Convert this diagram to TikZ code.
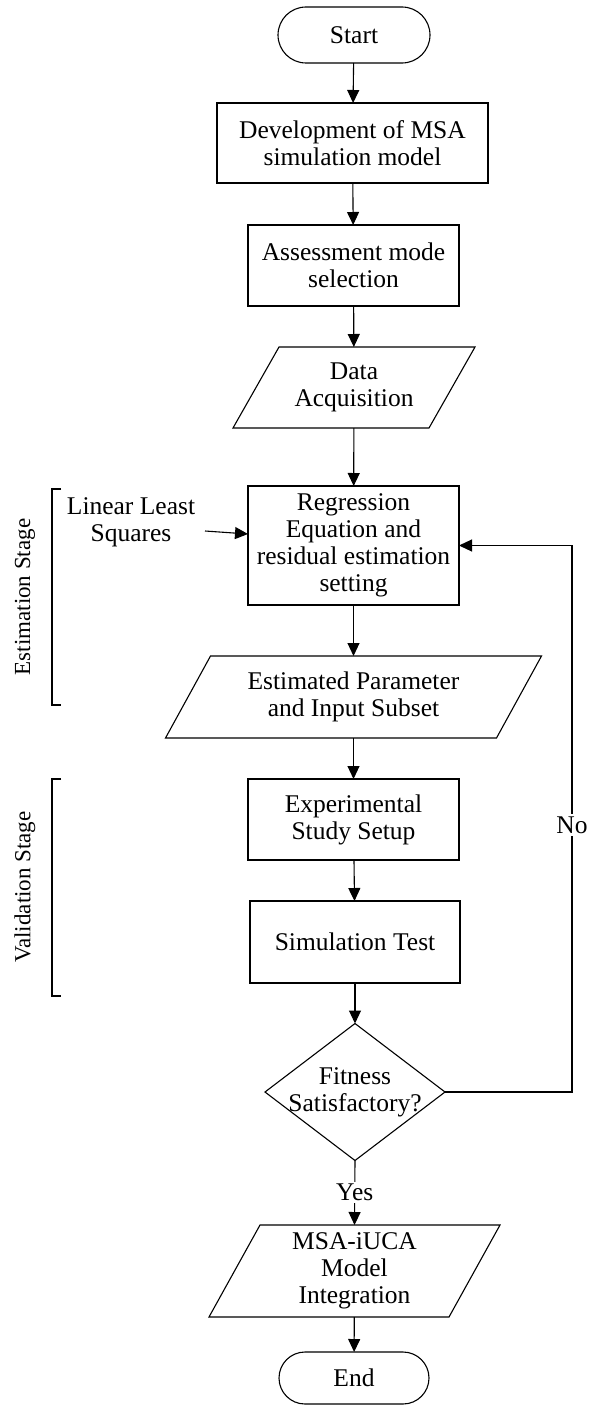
\documentclass[tikz,border=0pt]{standalone}
\usepackage{fontspec}
\setmainfont{Liberation Serif}
\usetikzlibrary{arrows.meta,shapes.misc}
\begin{document}
\begin{tikzpicture}[x=1pt,y=-1pt,
  every node/.style={font=\fontsize{25.5}{27}\selectfont, align=center, inner sep=0pt, outer sep=0pt},
  line/.style={line width=1.1pt, draw=black},
  arr/.style={line, -{Triangle[length=13pt,width=12pt]}},
  procbox/.style={draw=black, line width=1.1pt, rectangle},
  term/.style={draw=black, line width=1.1pt, rounded rectangle},
  io/.style={rectangle},
  stage/.style={font=\fontsize{23}{25}\selectfont, rotate=90}
]
\useasboundingbox (0,0) rectangle (589,1405);

% nodes
\node[term, minimum width=152pt, minimum height=56pt] (start) at (354,35) {Start};
\node[procbox, minimum width=271pt, minimum height=80pt] (dev) at (352.5,143) {Development of MSA\\simulation model};
\node[procbox, minimum width=211pt, minimum height=81pt] (assess) at (353.5,265.5) {Assessment mode\\selection};
\node[io, minimum width=196pt, minimum height=81pt] (data) at (354,387.5) {Data\\Acquisition};
\node[procbox, minimum width=211pt, minimum height=119pt] (reg) at (353.5,545.5) {Regression\\Equation and\\residual estimation\\setting};
\node[io, minimum width=331pt, minimum height=82pt] (est) at (353.5,697) {Estimated Parameter\\and Input Subset};
\node[procbox, minimum width=211pt, minimum height=81pt] (exp) at (353.5,819.5) {Experimental\\Study Setup};
\node[procbox, minimum width=210pt, minimum height=82pt] (sim) at (355,942) {Simulation Test};
\node[rectangle, minimum width=180pt, minimum height=137pt] (fit) at (355,1092) {Fitness\\Satisfactory?};
\node[io, minimum width=240pt, minimum height=92pt] (msa) at (354.5,1271) {MSA-iUCA\\Model\\Integration};
\node[term, minimum width=150pt, minimum height=52pt] (end) at (354,1378) {End};

\node (lls) at (131,522) {Linear Least\\Squares};
\node[stage] (estlab) at (25,597) {Estimation Stage};
\node[stage] (vallab) at (25,887) {Validation Stage};

% parallelograms and diamond outlines
\draw[line] ([xshift=-23pt]data.south west) -- ([xshift=-23pt]data.south east) -- ([xshift=23pt]data.north east) -- ([xshift=23pt]data.north west) -- cycle;
\draw[line] ([xshift=-22.5pt]est.south west) -- ([xshift=-22.5pt]est.south east) -- ([xshift=22.5pt]est.north east) -- ([xshift=22.5pt]est.north west) -- cycle;
\draw[line] ([xshift=-25.5pt]msa.south west) -- ([xshift=-25.5pt]msa.south east) -- ([xshift=25.5pt]msa.north east) -- ([xshift=25.5pt]msa.north west) -- cycle;
\draw[line] (fit.north) -- (fit.east) -- (fit.south) -- (fit.west) -- cycle;

% brackets
\draw[line] (61,489) -- (52,489) -- (52,705) -- (61,705);
\draw[line] (61,779) -- (52,779) -- (52,996) -- (61,996);

% connectors
\draw[arr] (start) -- (dev);
\draw[arr] (dev) -- (assess);
\draw[arr] (assess) -- (data);
\draw[arr] (data) -- (reg);
\draw[arr] (reg) -- (est);
\draw[arr] (est) -- (exp);
\draw[arr] (exp) -- (sim);
\draw[arr] (sim.south) -- (fit.north);
\draw[arr] (fit.south) -- node[fill=white, inner ysep=2pt] (yes) {Yes} (msa.north);
\draw[arr] (msa) -- (end);
\coordinate (lllsstart) at (205,531);
\draw[arr] (lllsstart) -- ([yshift=11.5pt]reg.west);
\coordinate (fb) at (572,1092);
\draw[arr] (fit.east) -- (fb) |- (reg.east);
\node[fill=white, inner ysep=3pt] (no) at (572,825) {No};
\end{tikzpicture}
\end{document}
